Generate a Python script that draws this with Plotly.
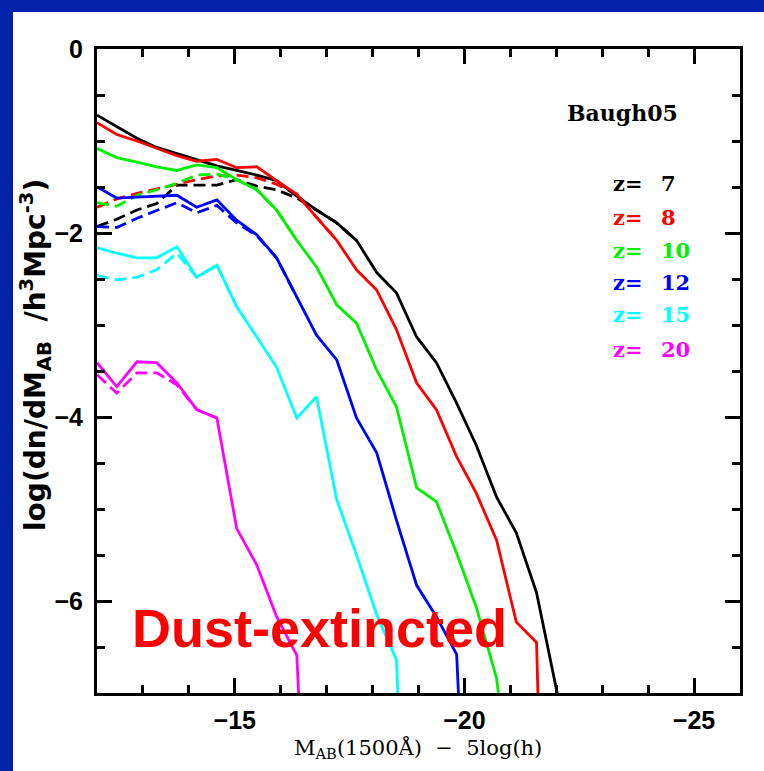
import plotly.graph_objects as go

# ---------------- data ----------------
M_GRID = [-12.0, -12.43, -12.87, -13.3, -13.74, -14.17, -14.61, -15.04, -15.48, -15.91,
          -16.35, -16.78, -17.22, -17.65, -18.09, -18.52, -18.96, -19.39, -19.83, -20.26,
          -20.7, -21.13, -21.57, -22.0]

REDSHIFTS = [7, 8, 10, 12, 15, 20]
COLORS = ["#000000", "#ff0000", "#00f000", "#0000ff", "#00ffff", "#ff00ff"]

# intrinsic (solid) curves: x = M_GRID prefix + last point where curve leaves the axis
z7_M = M_GRID[:23] + [-22.02]
z7_phi = [-0.72, -0.84, -0.97, -1.07, -1.14, -1.20, -1.27, -1.32, -1.37, -1.43, -1.60, -1.75,
          -1.89, -2.08, -2.43, -2.65, -3.13, -3.41, -3.85, -4.31, -4.87, -5.26, -5.91, -7.0]
z8_M = M_GRID[:23] + [-21.6]
z8_phi = [-0.80, -0.93, -1.00, -1.08, -1.16, -1.22, -1.20, -1.29, -1.28, -1.43, -1.58, -1.83,
          -2.08, -2.40, -2.62, -3.05, -3.63, -3.92, -4.43, -4.83, -5.34, -6.23, -6.45, -7.0]
z10_M = M_GRID[:21] + [-20.74]
z10_phi = [-1.08, -1.18, -1.23, -1.28, -1.32, -1.26, -1.29, -1.42, -1.53, -1.75, -2.08, -2.37,
           -2.78, -2.98, -3.49, -3.89, -4.77, -4.92, -5.48, -6.07, -6.84, -7.0]
z12_M = M_GRID[:19] + [-19.87]
z12_phi = [-1.50, -1.62, -1.61, -1.60, -1.59, -1.72, -1.64, -1.86, -2.02, -2.27, -2.70, -3.11,
           -3.38, -4.01, -4.39, -5.12, -5.83, -6.17, -6.58, -7.0]
z15_M = M_GRID[:16] + [-18.55]
z15_phi = [-2.16, -2.22, -2.27, -2.27, -2.15, -2.48, -2.35, -2.80, -3.13, -3.46, -4.01, -3.78,
           -4.90, -5.50, -6.15, -6.64, -7.0]
z20_M = M_GRID[:11] + [-16.39]
z20_phi = [-3.41, -3.67, -3.40, -3.41, -3.63, -3.92, -4.01, -5.21, -5.61, -6.17, -6.59, -7.0]

# dust-extincted (dashed) curves, until they merge with the solid ones
z7_dust = [-1.93, -1.85, -1.75, -1.68, -1.48, -1.48, -1.48, -1.42, -1.49, -1.53, -1.62, -1.75, -1.89, -2.08]
z8_dust = [-1.72, -1.63, -1.57, -1.52, -1.47, -1.42, -1.38, -1.37, -1.40, -1.47, -1.58, -1.83, -2.08]
z10_dust = [-1.67, -1.71, -1.59, -1.53, -1.46, -1.37, -1.36, -1.42, -1.53, -1.75, -2.08]
z12_dust = [-1.93, -1.94, -1.84, -1.76, -1.67, -1.78, -1.70, -1.89, -2.03, -2.27, -2.70]
z15_dust = [-2.46, -2.51, -2.48, -2.40, -2.22, -2.48, -2.35, -2.80]
z20_dust = [-3.54, -3.74, -3.52, -3.52, -3.65, -3.92, -4.01]

X_RANGE = [-12, -26]
Y_RANGE = [-7, 0]
MODEL_LABEL = "Baugh05"
PANEL_LABEL = "Dust-extincted"
X_TITLE = "M<sub>AB</sub>(1500Å)  −  5log(h)"
Y_TITLE = "log(dn/dM<sub>AB</sub>  /h<sup>3</sup>Mpc<sup>-3</sup>)"

# ---------------- figure ----------------
W, H = 764, 771
L, R, T, B = 97, 24, 49, 78
PW, PH = W - L - R, H - T - B


def px(x):
    return (x - L) / PW


def py(y):
    return (H - B - y) / PH


solids = [(z7_M, z7_phi), (z8_M, z8_phi), (z10_M, z10_phi),
          (z12_M, z12_phi), (z15_M, z15_phi), (z20_M, z20_phi)]
dusts = [z7_dust, z8_dust, z10_dust, z12_dust, z15_dust, z20_dust]

fig = go.Figure()
for z, c, d in zip(REDSHIFTS, COLORS, dusts):
    fig.add_trace(go.Scatter(x=M_GRID[:len(d)], y=d, mode="lines", name=f"z={z} dust",
                             line=dict(color=c, width=2.8, dash="12px,6px"), showlegend=False))
for z, c, (m, p) in zip(REDSHIFTS, COLORS, solids):
    fig.add_trace(go.Scatter(x=m, y=p, mode="lines", name=f"z={z}",
                             line=dict(color=c, width=2.8), showlegend=False))

tickfont = dict(family="Liberation Sans, Arial, sans-serif", size=25, color="black", weight="bold")
axis_common = dict(showline=True, linewidth=3, linecolor="black", mirror="allticks",
                   ticks="inside", ticklen=15, tickwidth=3, tickcolor="black",
                   showgrid=False, zeroline=False, tickfont=tickfont)
fig.update_xaxes(range=X_RANGE, tick0=-15, dtick=5, ticklabelstandoff=3,
                 minor=dict(ticks="inside", ticklen=8, tickwidth=2.5, tickcolor="black",
                            dtick=1, showgrid=False), **axis_common)
fig.update_yaxes(range=Y_RANGE, tick0=0, dtick=2, ticklabelstandoff=6,
                 minor=dict(ticks="inside", ticklen=8, tickwidth=2.5, tickcolor="black",
                            dtick=0.5, showgrid=False), **axis_common)

ann = []
ann.append(dict(x=px(418), y=py(748), xref="paper", yref="paper", text=X_TITLE, showarrow=False,
                font=dict(family="DejaVu Serif", size=21, color="black"),
                xanchor="center", yanchor="middle"))
ann.append(dict(x=px(36), y=py(355), xref="paper", yref="paper", text=Y_TITLE, showarrow=False,
                textangle=-90, font=dict(family="DejaVu Sans", size=28, color="black", weight="bold"),
                xanchor="center", yanchor="middle"))
ann.append(dict(x=px(565), y=py(113), xref="paper", yref="paper", text=MODEL_LABEL, showarrow=False,
                font=dict(family="DejaVu Serif", size=22, color="black", weight="bold"),
                xanchor="left", yanchor="middle"))
row_y = [183, 217, 250, 282, 315, 349]
for z, c, yy in zip(REDSHIFTS, COLORS, row_y):
    ann.append(dict(x=px(611), y=py(yy), xref="paper", yref="paper", text="z=", showarrow=False,
                    font=dict(family="DejaVu Serif", size=21, color=c, weight="bold"),
                    xanchor="left", yanchor="middle"))
    ann.append(dict(x=px(659), y=py(yy), xref="paper", yref="paper", text=str(z), showarrow=False,
                    font=dict(family="DejaVu Serif", size=21, color=c, weight="bold"),
                    xanchor="left", yanchor="middle"))
ann.append(dict(x=px(130), y=py(628), xref="paper", yref="paper", text=PANEL_LABEL, showarrow=False,
                font=dict(family="Liberation Sans, Arial, sans-serif", size=54, color="#ff0000", weight="bold"),
                xanchor="left", yanchor="middle"))

BLUE = "#0421a9"
shapes = [
    dict(type="rect", xref="paper", yref="paper", x0=px(-5), x1=px(13), y0=py(H + 5), y1=py(-5),
         fillcolor=BLUE, line=dict(width=0), layer="below"),
    dict(type="rect", xref="paper", yref="paper", x0=px(-5), x1=px(W + 5), y0=py(12), y1=py(-5),
         fillcolor=BLUE, line=dict(width=0), layer="below"),
]

fig.update_layout(width=W, height=H, margin=dict(l=L, r=R, t=T, b=B, autoexpand=False),
                  paper_bgcolor="white", plot_bgcolor="white",
                  annotations=ann, shapes=shapes, showlegend=False)

fig.write_html("out.html")
